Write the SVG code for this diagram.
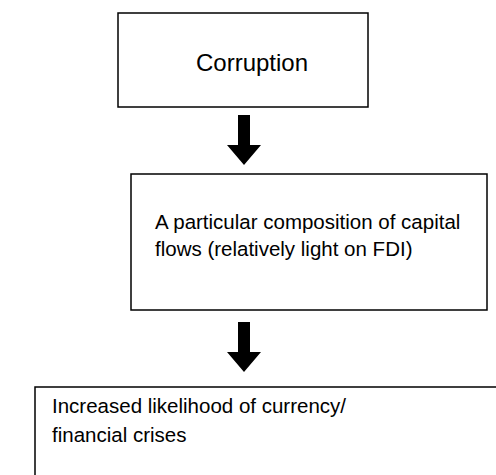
<svg xmlns="http://www.w3.org/2000/svg" width="496" height="475" viewBox="0 0 496 475">
<style>
.box{fill:#fff;stroke:#000;stroke-width:1.5}
.t{font-family:"Liberation Sans",Arial,sans-serif;fill:#000}
.t1{font-size:24px}
.t2{font-size:20.5px}
.arr{fill:#000}
</style>
<rect width="496" height="475" fill="#fff"/>
<g id="corruption">
<rect class="box" x="118" y="13" width="250" height="94"/>
<text class="t t1" x="196" y="71">Corruption</text>
</g>
<g id="composition">
<rect class="box" x="131" y="174" width="356" height="136"/>
<text class="t t2" x="155" y="229">A particular composition of capital</text>
<text class="t t2" x="155" y="256">flows (relatively light on FDI)</text>
</g>
<g id="crises">
<rect class="box" x="35" y="387" width="480" height="120"/>
<text class="t t2" x="52" y="413">Increased likelihood of currency/</text>
<text class="t t2" x="52" y="442">financial crises</text>
</g>
<g id="connectors">
<polygon class="arr" points="238,115 250,115 250,145 261,145 244,165 227,145 238,145"/>
<polygon class="arr" points="238,322 250,322 250,352 261,352 244,372 227,352 238,352"/>
</g>
</svg>
